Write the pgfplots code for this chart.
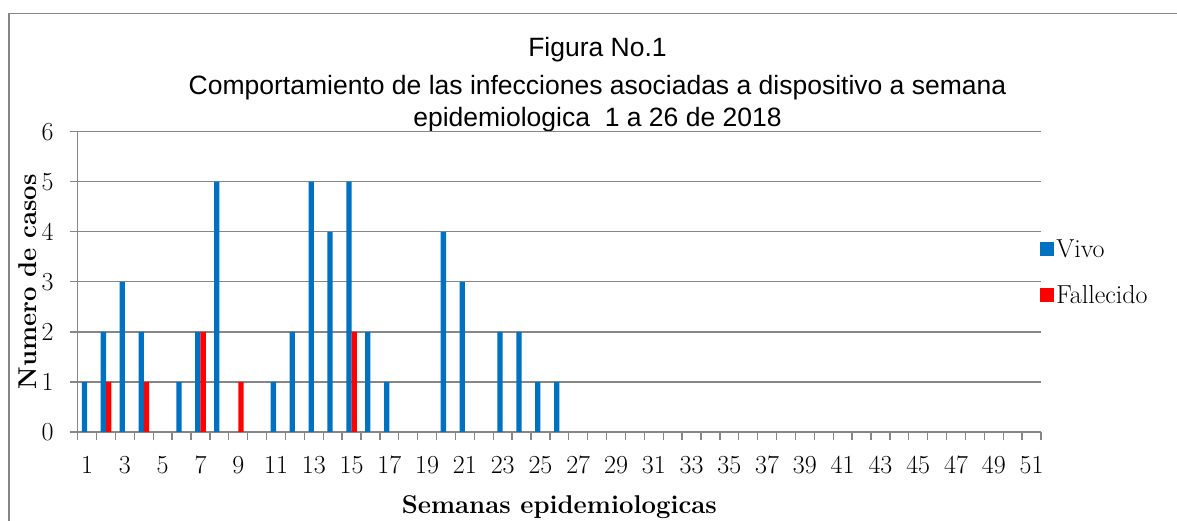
\documentclass[border=0pt]{standalone}
\usepackage{fontspec}
\usepackage{pgfplots}
\pgfplotsset{compat=1.18}
\newfontfamily\titlefont{Liberation Sans}
\definecolor{vivo}{RGB}{0,112,192}
\definecolor{fall}{RGB}{255,0,0}
\definecolor{gridgray}{RGB}{134,134,134}
\begin{document}
\begin{tikzpicture}[x=1pt,y=1pt]
\useasboundingbox (0,0) rectangle (1177,521);
\draw[gridgray, line width=1.6pt] (9,-10) -- (9,507.5) -- (1190,507.5);
\tikzset{ttl/.style={anchor=base, inner sep=0pt, font=\titlefont\fontsize{26.5}{31}\selectfont}}
\node[ttl] at (597.5,464) {Figura No.1};
\node[ttl] at (597.5,426) {Comportamiento de las infecciones asociadas a dispositivo a semana};
\node[ttl] at (597.5,394) {epidemiologica\ \ 1 a 26 de 2018};
\begin{axis}[
  at={(77.7pt,89pt)}, anchor=south west,
  scale only axis, width=963.3pt, height=300.3pt,
  xmin=0.5, xmax=51.5, ymin=0, ymax=6,
  axis x line*=bottom, axis y line*=left,
  axis line style={gridgray, line width=1.3pt, -},
  ymajorgrids, grid style={gridgray, line width=1.3pt},
  ytick={0,...,6},
  xtick={1,3,...,51},
  minor xtick={0.5,1.5,...,51.5},
  tick align=outside,
  major tick length=8pt, minor tick length=8pt,
  tick style={gridgray, line width=1.3pt},
  major x tick style={draw=none},
  /pgf/number format/assume math mode=true,
  ticklabel style={font=\fontsize{26}{30}\selectfont},
  yticklabel style={inner sep=0pt, anchor=east, xshift=-16pt},
  xticklabel style={inner sep=0pt, anchor=base, yshift=-34pt},
  xlabel={Semanas epidemiologicas},
  xlabel style={at={(axis description cs:0.5,-0.27)}, anchor=base, inner sep=0pt, font=\bfseries\fontsize{25.7}{30}\selectfont},
  ylabel={Numero de casos},
  ylabel style={at={(axis description cs:-0.0423,0.5)}, rotate=0, anchor=south, inner sep=0pt, font=\bfseries\fontsize{25.7}{30}\selectfont},
  legend style={at={(axis description cs:0.9959,0.6435)}, anchor=north west, draw=none, fill=none,
    font=\fontsize{26}{30}\selectfont, row sep=29.5pt, column sep=2pt,
    nodes={inner sep=0pt, text height=16.5pt, text depth=0pt}},
  legend cell align=left,
  legend image code/.code={\fill[#1] (0pt,-7pt) rectangle (14pt,7pt);},
]
\addplot[ybar, bar width=0.28, bar shift=-0.14, fill=vivo, draw=none] coordinates {
(1,1) (2,2) (3,3) (4,2) (6,1) (7,2) (8,5) (11,1) (12,2) (13,5) (14,4) (15,5) (16,2) (17,1) (20,4) (21,3) (23,2) (24,2) (25,1) (26,1)};
\addlegendentry{Vivo}
\addplot[ybar, bar width=0.28, bar shift=0.14, fill=fall, draw=none] coordinates {
(2,1) (4,1) (7,2) (9,1) (15,2)};
\addlegendentry{Fallecido}
\end{axis}
\end{tikzpicture}
\end{document}
